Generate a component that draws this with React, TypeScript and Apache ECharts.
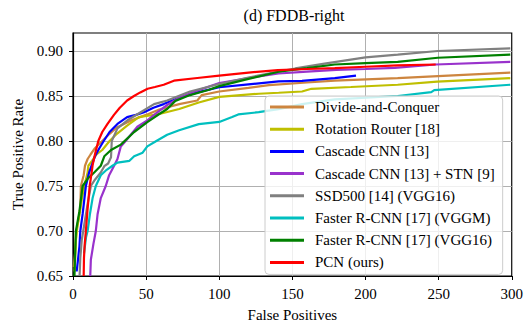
import React, { useEffect, useRef } from "react";
import * as echarts from "echarts";

const FONT = "'Liberation Serif', 'Times New Roman', serif";

const seriesNames = [
  "Divide-and-Conquer",
  "Rotation Router [18]",
  "Cascade CNN [13]",
  "Cascade CNN [13] + STN [9]",
  "SSD500 [14] (VGG16)",
  "Faster R-CNN [17] (VGGM)",
  "Faster R-CNN [17] (VGG16)",
  "PCN (ours)",
];
const seriesColors = ["#cd853f", "#bfbf00", "#0000ff", "#9932cc", "#808080", "#00bfbf", "#008000", "#ff0000"];

const xTicks = [0, 50, 100, 150, 200, 250, 300];
const yTicks = [0.65, 0.7, 0.75, 0.8, 0.85, 0.9];

// Divide-and-Conquer
const dacFP = [0.5, 1.4, 2.3, 4, 5, 5.4, 7.3, 8.2, 10, 12, 15, 20, 25, 30, 40, 50, 59, 72.6, 85, 88, 100, 120, 134, 160, 179, 222, 260, 299];
const dacTPR = [0.66, 0.675, 0.7, 0.715, 0.726, 0.75, 0.762, 0.7725, 0.78, 0.785, 0.792, 0.8, 0.808, 0.815, 0.823, 0.829, 0.835, 0.841, 0.845, 0.851, 0.855, 0.859, 0.862, 0.865, 0.867, 0.8698, 0.873, 0.876];

// Rotation Router
const rrFP = [1, 1.4, 2, 3, 4.4, 6, 7.7, 10, 10.5, 13, 16, 20, 25, 30, 37, 45, 59, 72.6, 86, 100, 127, 140.6, 156.6, 163, 190, 222, 249, 299];
const rrTPR = [0.655, 0.668, 0.69, 0.705, 0.7186, 0.735, 0.75, 0.765, 0.7725, 0.778, 0.785, 0.79, 0.8, 0.808, 0.817, 0.8266, 0.83, 0.8355, 0.8428, 0.849, 0.8525, 0.8536, 0.855, 0.858, 0.86, 0.8625, 0.866, 0.8698];

// Cascade CNN
const ccFP = [2.5, 3.4, 4.4, 5, 6.6, 8.8, 11, 12.7, 15, 18, 21, 25, 30.4, 37, 43, 48.6, 55, 62, 72.6, 85, 100, 120, 140.6, 156.6, 179, 193.5];
const ccTPR = [0.655, 0.668, 0.683, 0.7, 0.719, 0.75, 0.765, 0.7725, 0.783, 0.792, 0.8, 0.81, 0.819, 0.8266, 0.829, 0.832, 0.837, 0.841, 0.848, 0.854, 0.8597, 0.863, 0.8662, 0.8669, 0.8698, 0.8727];

// Cascade CNN + STN
const stnFP = [11.8, 12.2, 14, 15.6, 16.8, 19, 22.4, 24.7, 28.1, 30.4, 32.7, 36, 39.5, 44, 50.8, 57, 64.4, 72.6, 85, 100, 120, 140.6, 160, 180, 200, 220, 248, 299];
const stnTPR = [0.65, 0.668, 0.686, 0.7, 0.7186, 0.7366, 0.75, 0.762, 0.7725, 0.78, 0.794, 0.8, 0.807, 0.8158, 0.823, 0.831, 0.84, 0.848, 0.856, 0.8644, 0.87, 0.875, 0.877, 0.879, 0.88, 0.8813, 0.885, 0.888];

// SSD500
const ssdFP = [4.5, 5, 6, 8, 10, 12.2, 15, 19, 21.4, 24, 26, 26.5, 30.4, 37.2, 46.3, 55.4, 64.4, 80, 100, 120, 140.6, 152, 172, 200, 222, 249.4, 299];
const ssdTPR = [0.65, 0.67, 0.69, 0.71, 0.73, 0.75, 0.757, 0.765, 0.772, 0.775, 0.782, 0.8, 0.814, 0.823, 0.832, 0.841, 0.845, 0.855, 0.8633, 0.8705, 0.877, 0.8806, 0.886, 0.893, 0.896, 0.9, 0.903];

// Faster R-CNN (VGGM)
const frmFP = [7.5, 8.9, 10, 11.5, 13.4, 15.6, 19, 23, 27, 30.4, 38.6, 41.8, 47.6, 50.8, 57, 64.4, 72.6, 86, 100, 108.8, 113, 127, 140.6, 156.6, 179, 222, 245, 247, 299];
const frmTPR = [0.675, 0.693, 0.7, 0.718, 0.7366, 0.75, 0.762, 0.768, 0.7725, 0.776, 0.778, 0.783, 0.787, 0.794, 0.8, 0.807, 0.812, 0.8187, 0.8212, 0.8266, 0.8295, 0.832, 0.8355, 0.841, 0.8463, 0.85, 0.8543, 0.8565, 0.8625];

// Faster R-CNN (VGG16)
const frvFP = [1, 1.4, 2, 4.4, 6.6, 10, 14.5, 19, 21.4, 26, 32.7, 41.8, 50.8, 59, 64.4, 70, 80, 93, 100, 120, 140.6, 160, 179, 200, 222, 249.4, 299];
const frvTPR = [0.65, 0.672, 0.7, 0.722, 0.75, 0.758, 0.765, 0.7725, 0.783, 0.79, 0.796, 0.81, 0.821, 0.83, 0.8355, 0.8446, 0.851, 0.857, 0.861, 0.869, 0.877, 0.881, 0.885, 0.8865, 0.888, 0.8925, 0.896];

// PCN (ours)
const pcnFP = [7.3, 7.5, 8, 8.8, 10, 11.4, 12.5, 13.4, 15, 17.3, 20, 23.6, 28, 32, 37, 41.7, 46, 51, 56, 62, 69, 85, 100, 120, 140, 160, 179, 200, 222, 248];
const pcnTPR = [0.65, 0.67, 0.685, 0.7, 0.725, 0.75, 0.762, 0.773, 0.785, 0.8, 0.81, 0.819, 0.829, 0.837, 0.845, 0.85, 0.854, 0.858, 0.86, 0.8625, 0.867, 0.87, 0.8727, 0.876, 0.8787, 0.88, 0.881, 0.8825, 0.884, 0.885];

const allFP = [dacFP, rrFP, ccFP, stnFP, ssdFP, frmFP, frvFP, pcnFP];
const allTPR = [dacTPR, rrTPR, ccTPR, stnTPR, ssdTPR, frmTPR, frvTPR, pcnTPR];

export default function App() {
  const ref = useRef<HTMLDivElement>(null);
  useEffect(() => {
    if (!ref.current) return;
    const chart = echarts.init(ref.current, undefined, { renderer: "svg" });
    const series = seriesNames.map((name, i) => ({
      name,
      type: "line",
      data: allFP[i].map((x, j) => [x, allTPR[i][j]]),
      showSymbol: false,
      symbol: "none",
      lineStyle: { width: 2.2, color: seriesColors[i] },
      itemStyle: { color: seriesColors[i] },
      z: 2 + i * 0.01,
      clip: true,
    }));
    chart.setOption({
      animation: false,
      backgroundColor: "#ffffff",
      textStyle: { fontFamily: FONT },
      title: {
        text: "(d) FDDB-right",
        left: 294,
        top: 7,
        padding: 0,
        textAlign: "center",
        textStyle: { fontFamily: FONT, fontSize: 16, fontWeight: "normal", color: "#000" },
      },
      grid: { left: 73, right: 11, top: 33, bottom: 43, show: true, borderColor: "#000", borderWidth: 1.2, backgroundColor: "transparent" },
      legend: {
        data: seriesNames,
        orient: "vertical",
        left: 265,
        top: 96,
        icon: "rect",
        itemWidth: 34,
        itemHeight: 3,
        itemGap: 6.2,
        padding: [3, 8, 4, 5],
        backgroundColor: "rgba(255,255,255,0.8)",
        borderColor: "#cccccc",
        borderWidth: 1,
        borderRadius: 4,
        textStyle: { fontFamily: FONT, fontSize: 15, color: "#000", lineHeight: 16, padding: [0, 0, 0, 6] },
      },
      xAxis: {
        type: "value",
        min: 0,
        max: 300,
        interval: 50,
        name: "False Positives",
        nameLocation: "middle",
        nameGap: 31,
        nameTextStyle: { fontFamily: FONT, fontSize: 15, color: "#000" },
        axisLine: { show: true, onZero: false, lineStyle: { color: "#000", width: 1.2 } },
        axisTick: { show: true, length: 4, lineStyle: { color: "#000" }, customValues: xTicks },
        axisLabel: { fontFamily: FONT, fontSize: 15, color: "#000", margin: 10, customValues: xTicks },
        splitLine: { show: true, lineStyle: { color: "#b0b0b0", width: 1 } },
      },
      yAxis: {
        type: "value",
        min: 0.65,
        max: 0.92,
        interval: 0.05,
        name: "True Positive Rate",
        nameLocation: "middle",
        nameRotate: 90,
        nameGap: 42,
        nameTextStyle: { fontFamily: FONT, fontSize: 15, color: "#000" },
        axisLine: { show: true, onZero: false, lineStyle: { color: "#000", width: 1.2 } },
        axisTick: { show: true, length: 4, lineStyle: { color: "#000" }, customValues: yTicks },
        axisLabel: {
          fontFamily: FONT,
          fontSize: 15,
          color: "#000",
          margin: 10,
          customValues: yTicks,
          formatter: (v: number) => v.toFixed(2),
        },
        splitLine: { show: true, lineStyle: { color: "#b0b0b0", width: 1 } },
      },
      series,
    });
    return () => chart.dispose();
  }, []);
  return <div ref={ref} style={{ position: "fixed", left: 0, top: 0, width: 526, height: 327 }} />;
}
